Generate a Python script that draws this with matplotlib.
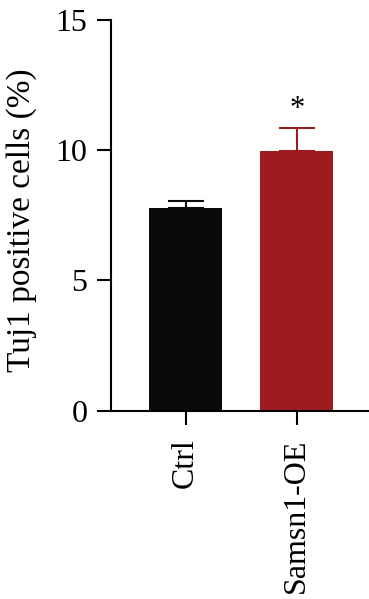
import matplotlib.pyplot as plt

plt.rcParams['font.family'] = ['Liberation Serif', 'DejaVu Serif']

groups = ['Ctrl', 'Samsn1-OE']
means = [7.78, 9.98]
errors = [0.27, 0.88]
colors = ['#0a0a0a', '#9e1c20']
y_ticks = [0, 5, 10, 15]

fig = plt.figure(figsize=(3.69, 5.99), dpi=100)
ax = fig.add_axes([0.3008, 0.3144, 0.6992, 0.6522])

x = list(range(len(groups)))
for i in x:
    ax.bar(i, means[i], width=0.66, color=colors[i], zorder=2)
    ax.errorbar(i, means[i], yerr=[[0], [errors[i]]], fmt='none',
                ecolor=colors[i], elinewidth=1.5, capsize=13, capthick=1.5, zorder=1)

ax.text(1, means[1] + errors[1] + 0.7, '*', ha='center', va='center', fontsize=22)

ax.set_xlim(-0.67, 1.65)
ax.set_ylim(0, 15)
ax.set_yticks(y_ticks)
ax.set_xticks(x)
ax.set_xticklabels(groups, rotation=90, fontsize=23)
ax.tick_params(axis='y', labelsize=23, length=10, width=1.5, pad=7)
ax.tick_params(axis='x', length=10, width=1.5, pad=10)
ax.set_ylabel('Tuj1 positive cells (%)', fontsize=24, labelpad=13)
ax.yaxis.label.set_y(0.487)

for s in ['top', 'right']:
    ax.spines[s].set_visible(False)
for s in ['left', 'bottom']:
    ax.spines[s].set_linewidth(1.5)

fig.savefig('out.png', dpi=100)
